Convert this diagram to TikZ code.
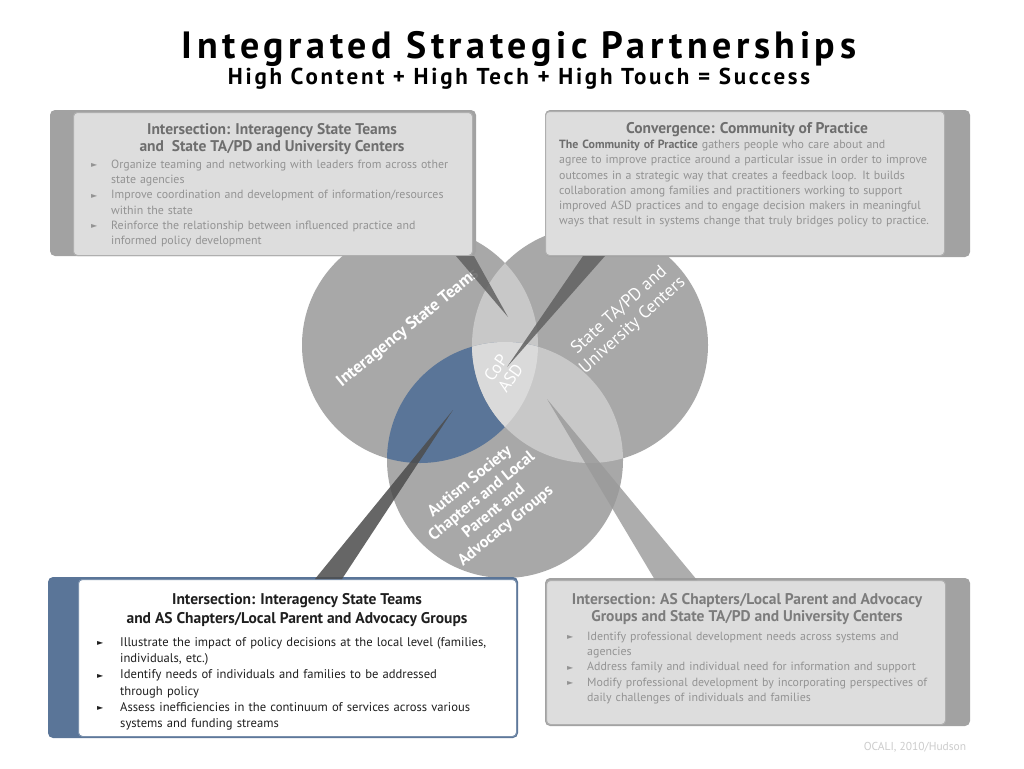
\documentclass[tikz,border=0pt]{standalone}
\usepackage{fontspec}
\setmainfont{PT Sans}
\newfontfamily\headfont[LetterSpace=12]{PT Sans}
\newfontfamily\subfont[LetterSpace=12]{PT Sans}
\newfontfamily\symfont{DejaVu Sans}
\usepackage{xcolor}
\usepackage{tikz}
\usetikzlibrary{positioning}

\definecolor{ringgray}{HTML}{A8A8A8}
\definecolor{pairgray}{HTML}{C8C8C8}
\definecolor{coregray}{HTML}{DADADA}
\definecolor{asdblue}{HTML}{5A7598}
\definecolor{boxfill}{HTML}{E2E2E2}
\definecolor{boxedge}{HTML}{AFAFAF}
\definecolor{bandgray}{HTML}{A2A2A2}
\definecolor{headgray}{HTML}{6E6E6E}
\definecolor{bodygray}{HTML}{939393}

% bullet item with hanging indent
\newlength{\bltw}
\setlength{\bltw}{20pt}
\newcommand{\blt}[1]{\par\hangindent=\bltw\hangafter=1\noindent
  \hbox to \bltw{\raisebox{0.5pt}{\fontsize{8}{8}\symfont\char"25BA}\hfil}#1\par}
\newcommand{\nl}{\hfil\break}

\begin{document}
\begin{tikzpicture}[x=1pt,y=-1pt,
    band/.style={fill=bandgray, rounded corners=5pt},
    panel/.style={fill=boxfill, fill opacity=0.93, draw=boxedge, line width=1pt, rounded corners=4pt, anchor=north west, inner sep=0pt},
    panelhead/.style={align=center, font={\fontsize{15.5}{17.5}\selectfont\bfseries}, text=headgray, inner sep=0pt},
    panelbody/.style={text width=#1, align=left, font={\fontsize{11.9}{15.2}\selectfont}, text=bodygray, inner sep=0pt, anchor=north west},
    ringtext/.style={text=white, align=center, inner sep=0pt},
    wedge/.style={fill=black!62, fill opacity=0.85}]
  \useasboundingbox (0,0) rectangle (1024,768);
  \fill[white] (0,0) rectangle (1024,768);

  % Titles
  \node (title) at (519,49) {\headfont\fontsize{38}{38}\selectfont\bfseries Integrated Strategic Partnerships};
  \node (subtitle) [below=-3pt of title, inner sep=1pt] {\subfont\fontsize{23}{23}\selectfont\bfseries High Content + High Tech + High Touch = Success};

  % Circles
  \coordinate (cL) at (420,345);
  \coordinate (cR) at (590,345);
  \coordinate (cB) at (505,460);
  \fill[ringgray] (cL) circle (118) (cR) circle (118) (cB) circle (118);
  \begin{scope}
    \clip (cL) circle (118);
    \fill[pairgray] (cR) circle (118);
    \fill[asdblue] (cB) circle (118);
  \end{scope}
  \begin{scope}
    \clip (cR) circle (118);
    \fill[pairgray] (cB) circle (118);
  \end{scope}
  \begin{scope}
    \clip (cL) circle (118);
    \clip (cR) circle (118);
    \fill[coregray] (cB) circle (118);
  \end{scope}

  % Circle labels
  \node (teams) [ringtext, rotate=39, font={\fontsize{17}{19}\selectfont\bfseries}] at (408,328) {Interagency State Teams};
  \node (centers) [ringtext, rotate=42, font={\fontsize{17.5}{20}\selectfont}] at (626,318) {State TA/PD and\\University Centers};
  \node (cop) [ringtext, rotate=55, font={\fontsize{17}{18}\selectfont}] at (503,373) {CoP\\ASD};
  \node (autism) [ringtext, rotate=39, font={\fontsize{16.2}{19}\selectfont\bfseries}] at (488,504) {Autism Society\\Chapters and Local\\Parent and\\Advocacy Groups};

  % Boxes
  \fill[band] (50,110) rectangle (476,256);
  \node (boxTL) [panel, minimum width=399pt, minimum height=143pt] at (73,112) {};
  \fill[band] (545,110) rectangle (970,257);
  \node (boxTR) [panel, minimum width=399pt, minimum height=144pt] at (545,111) {};
  \fill[band, fill=asdblue] (48,577) rectangle (518,738);
  \node (boxBL) [panel, fill=white, fill opacity=1, draw=asdblue!80, minimum width=438pt, minimum height=157pt] at (78,579) {};
  \fill[band] (545,578) rectangle (970,726);
  \node (boxBR) [panel, minimum width=399pt, minimum height=144pt] at (546,580) {};

  % Pointers
  \coordinate (tipTL) at (508,317);
  \coordinate (tipTR) at (507,367);
  \coordinate (tipBL) at (453,410);
  \coordinate (tipBR) at (547,399);
  \fill[wedge] ([xshift=-17pt]boxTL.south east) -- ([xshift=1pt]boxTL.south east) -- (tipTL) -- cycle;
  \fill[wedge] ([xshift=38pt]boxTR.south west) -- ([xshift=60pt]boxTR.south west) -- (tipTR) -- cycle;
  \fill[wedge, fill=black!70] ([xshift=237pt]boxBL.north west) -- ([xshift=264pt]boxBL.north west) -- (tipBL) -- cycle;
  \fill[wedge, fill=black!40, fill opacity=0.8] ([xshift=109pt]boxBR.north west) -- ([xshift=151pt]boxBR.north west) -- (tipBR) -- cycle;

  % Text of the boxes
  \node (headTL) [panelhead] at (272,139) {Intersection: Interagency State Teams\\and\ \ State TA/PD and University Centers};
  \node (bodyTL) [panelbody=370pt] at (91,153) {%
    \blt{Organize teaming and networking with leaders from across other\nl state agencies}
    \blt{Improve coordination and development of information/resources\nl within the state}
    \blt{Reinforce the relationship between influenced practice and\nl informed policy development}};

  \node (headTR) [panelhead] at (747,130) {Convergence: Community of Practice};
  \node (bodyTR) [panelbody=385pt] at (559,140) {%
    {\color{headgray}\bfseries The Community of Practice} gathers people who care about and\\
    agree to improve practice around a particular issue in order to improve\\
    outcomes in a strategic way that creates a feedback loop. It builds\\
    collaboration among families and practitioners working to support\\
    improved ASD practices and to engage decision makers in meaningful\\
    ways that result in systems change that truly bridges policy to practice.};

  \node (headBL) [panelhead, text=black!88, font={\fontsize{15.5}{19}\selectfont\bfseries}] at (297,610) {Intersection: Interagency State Teams\\and AS Chapters/Local Parent and Advocacy Groups};
  \node (bodyBL) [panelbody=410pt, text=black!88, font={\fontsize{12.6}{16.2}\selectfont}] at (97,630) {%
    \setlength{\bltw}{23pt}%
    \blt{Illustrate the impact of policy decisions at the local level (families,\nl individuals, etc.)}
    \blt{Identify needs of individuals and families to be addressed\nl through policy}
    \blt{Assess inefficiencies in the continuum of services across various\nl systems and funding streams}};

  \node (headBR) [panelhead, text=headgray!90] at (747,609) {Intersection: AS Chapters/Local Parent and Advocacy\\Groups and State TA/PD and University Centers};
  \node (bodyBR) [panelbody=375pt] at (567,625) {%
    \setlength{\bltw}{20pt}%
    \blt{Identify professional development needs across systems and\nl agencies}
    \blt{Address family and individual need for information and support}
    \blt{Modify professional development by incorporating perspectives of\nl daily challenges of individuals and families}};

  % Credit
  \node (credit) [text=black!20, font={\fontsize{11.5}{12}\selectfont}] at (915,747) {OCALI, 2010/Hudson};
\end{tikzpicture}
\end{document}
